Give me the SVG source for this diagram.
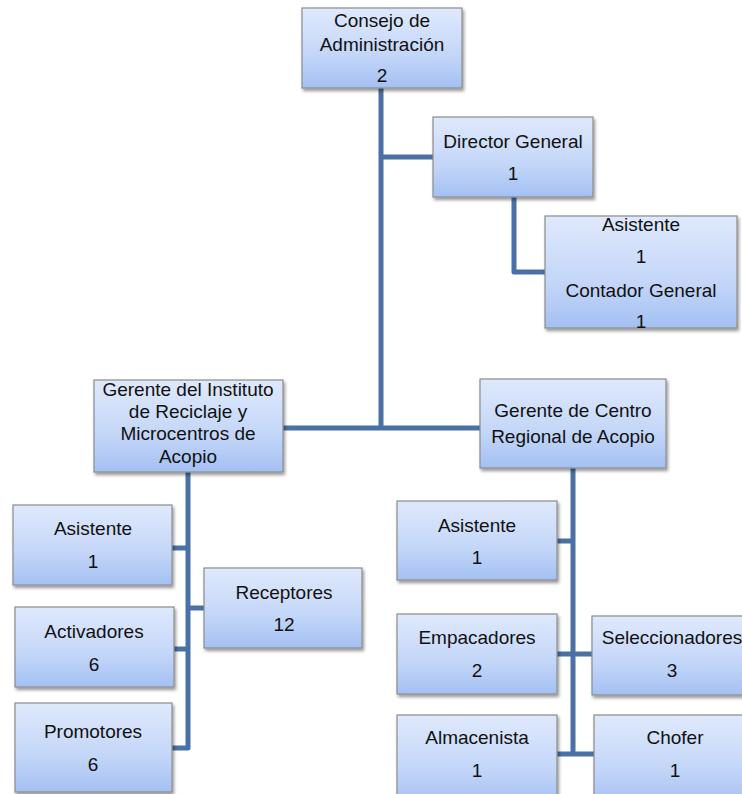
<svg xmlns="http://www.w3.org/2000/svg" width="742" height="794" viewBox="0 0 742 794">
<defs>
<linearGradient id="g" x1="0" y1="0" x2="0" y2="1">
<stop offset="0" stop-color="#dfe9fc"/>
<stop offset="0.6" stop-color="#c3d6f8"/>
<stop offset="1" stop-color="#a3c0f3"/>
</linearGradient>
<filter id="sh" x="-10%" y="-10%" width="125%" height="130%">
<feDropShadow dx="1.5" dy="2.5" stdDeviation="1.8" flood-color="#000" flood-opacity="0.4"/>
</filter>
<style>
.b{fill:url(#g);stroke:#8c8c8c;stroke-width:1.2;filter:url(#sh)}
.t{font-family:"Liberation Sans",Arial,sans-serif;font-size:19px;fill:#111;text-anchor:middle}
.c{fill:none;stroke:#4a71a5;stroke-width:5;stroke-linejoin:round}
</style>
</defs>
<rect width="742" height="794" fill="#fff"/>
<g id="connectors">
<path class="c" d="M381 88 V428"/>
<path class="c" d="M283 428 H480"/>
<path class="c" d="M381 157 H433"/>
<path class="c" d="M514 197 V272 H545"/>
<path class="c" d="M188 472 V748 H172"/>
<path class="c" d="M172 548 H188"/>
<path class="c" d="M174 649 H188"/>
<path class="c" d="M188 608 H204"/>
<path class="c" d="M573 468 V755"/>
<path class="c" d="M557 541 H573"/>
<path class="c" d="M557 654 H592"/>
<path class="c" d="M557 754 H594"/>
</g>
<g id="consejo">
<rect class="b" x="302" y="8" width="160" height="80"/>
<text class="t" x="382" y="27">Consejo de</text>
<text class="t" x="382" y="51">Administración</text>
<text class="t" x="382" y="82">2</text>
</g>
<g id="director">
<rect class="b" x="433" y="117" width="160" height="80"/>
<text class="t" x="513" y="148">Director General</text>
<text class="t" x="513" y="180">1</text>
</g>
<g id="asistente-contador">
<rect class="b" x="545" y="216" width="192" height="112"/>
<text class="t" x="641" y="231">Asistente</text>
<text class="t" x="641" y="263">1</text>
<text class="t" x="641" y="297">Contador General</text>
<text class="t" x="641" y="328">1</text>
</g>
<g id="gerente-instituto">
<rect class="b" x="94" y="380" width="189" height="92"/>
<text class="t" x="188" y="396">Gerente del Instituto</text>
<text class="t" x="188" y="418">de Reciclaje y</text>
<text class="t" x="188" y="440">Microcentros de</text>
<text class="t" x="188" y="463">Acopio</text>
</g>
<g id="gerente-centro">
<rect class="b" x="480" y="379" width="186" height="89"/>
<text class="t" x="573" y="417">Gerente de Centro</text>
<text class="t" x="573" y="443">Regional de Acopio</text>
</g>
<g id="asistente-izq">
<rect class="b" x="13" y="505" width="159" height="80"/>
<text class="t" x="93" y="535">Asistente</text>
<text class="t" x="93" y="568">1</text>
</g>
<g id="activadores">
<rect class="b" x="15" y="607" width="159" height="80"/>
<text class="t" x="94" y="638">Activadores</text>
<text class="t" x="94" y="671">6</text>
</g>
<g id="promotores">
<rect class="b" x="15" y="703" width="157" height="89"/>
<text class="t" x="93" y="738">Promotores</text>
<text class="t" x="93" y="771">6</text>
</g>
<g id="receptores">
<rect class="b" x="204" y="568" width="158" height="80"/>
<text class="t" x="284" y="599">Receptores</text>
<text class="t" x="284" y="631">12</text>
</g>
<g id="asistente-der">
<rect class="b" x="397" y="501" width="160" height="79"/>
<text class="t" x="477" y="532">Asistente</text>
<text class="t" x="477" y="564">1</text>
</g>
<g id="empacadores">
<rect class="b" x="397" y="614" width="160" height="80"/>
<text class="t" x="477" y="644">Empacadores</text>
<text class="t" x="477" y="677">2</text>
</g>
<g id="seleccionadores">
<rect class="b" x="592" y="616" width="162" height="79"/>
<text class="t" x="672" y="644">Seleccionadores</text>
<text class="t" x="672" y="677">3</text>
</g>
<g id="almacenista">
<rect class="b" x="397" y="715" width="160" height="90"/>
<text class="t" x="477" y="744">Almacenista</text>
<text class="t" x="477" y="777">1</text>
</g>
<g id="chofer">
<rect class="b" x="594" y="715" width="160" height="90"/>
<text class="t" x="675" y="744">Chofer</text>
<text class="t" x="675" y="777">1</text>
</g>
</svg>
